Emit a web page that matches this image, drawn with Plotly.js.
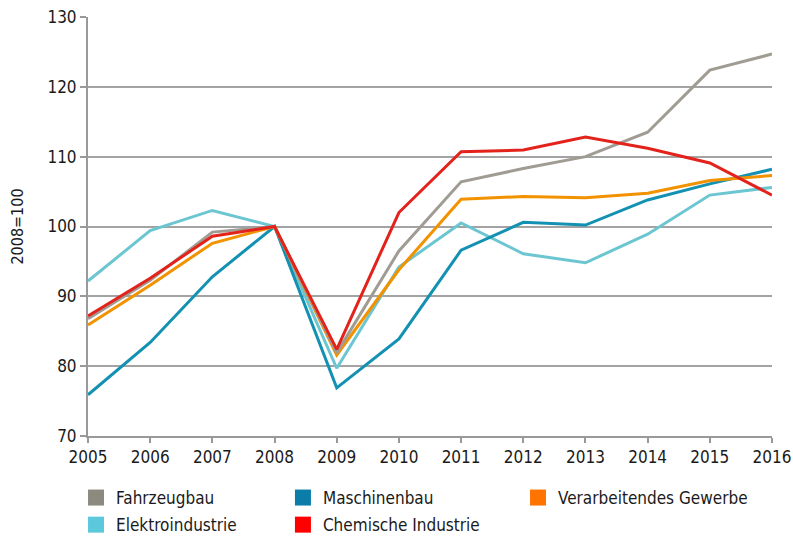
<!DOCTYPE html>
<html><head><meta charset="utf-8">
<script src="https://cdn.plot.ly/plotly-3.0.1.min.js"></script>
<style>body{margin:0;padding:0;background:#fff}#c{width:793px;height:536px}</style>
</head><body><div id="c"></div>
<script>
var years = [2005,2006,2007,2008,2009,2010,2011,2012,2013,2014,2015,2016];
var fahrzeugbau = [86.8,92.3,99.2,100,81.9,96.5,106.4,108.3,110.0,113.5,122.4,124.7];
var maschinenbau = [75.9,83.4,92.8,100,76.9,83.9,96.6,100.6,100.2,103.8,106.1,108.2];
var verarbeitend = [85.9,91.6,97.6,100,81.6,93.8,103.9,104.3,104.1,104.75,106.6,107.3];
var elektro = [92.2,99.4,102.3,100,79.7,94.2,100.5,96.1,94.8,98.9,104.5,105.6];
var chemie = [87.2,92.6,98.6,100,82.4,102.0,110.7,110.95,112.8,111.2,109.1,104.5];
var names = ["Fahrzeugbau","Maschinenbau","Verarbeitendes Gewerbe","Elektroindustrie","Chemische Industrie"];
var lineColors = ["#a09c94","#1391b3","#f39200","#6cc6d1","#e3231b"];
var legendColors = ["#8c8a7e","#0a7ea8","#ff7300","#5bc8dc","#ff0000"];
var series = [fahrzeugbau, maschinenbau, verarbeitend, elektro, chemie];
var legendCol = ["legend","legend2","legend3","legend","legend2"];
var drawOrder = [3,1,2,0,4];
var font = "'DejaVu Sans Condensed','Liberation Sans Narrow',sans-serif";
var traces = [];
drawOrder.forEach(function(i){
  traces.push({x:years,y:series[i],type:'scatter',mode:'lines',name:names[i],
    line:{color:lineColors[i],width:3},showlegend:false,hoverinfo:'skip'});
});
names.forEach(function(n,i){
  traces.push({x:[null],y:[null],type:'scatter',mode:'markers',name:n,
    legend:legendCol[i],legendgroup:'g'+i,
    marker:{symbol:'square',size:17,color:legendColors[i]},showlegend:true});
});
function leg(x){
  return {orientation:'v',x:x,xanchor:'left',y:-0.105,yanchor:'top',
    tracegroupgap:2,itemwidth:30,traceorder:'grouped',
    font:{family:font,size:17,color:'#1a1a1a'},bgcolor:'rgba(0,0,0,0)'};
}
var layout = {
  width:793,height:536,
  margin:{l:88,r:21,t:17,b:100,autoexpand:false},
  paper_bgcolor:'#fff',plot_bgcolor:'#fff',
  font:{family:font,size:17,color:'#1a1a1a'},
  xaxis:{range:[2005,2016],tickvals:years,ticktext:years.map(String),
    showgrid:false,zeroline:false,showline:true,linecolor:'#999',linewidth:2,
    ticks:'outside',ticklen:5,tickwidth:2,tickcolor:'#999',
    tickfont:{family:font,size:17,color:'#1a1a1a'}},
  yaxis:{range:[70,130],dtick:10,tick0:70,showgrid:true,gridcolor:'#a3a3a3',gridwidth:2,
    zeroline:false,showline:true,linecolor:'#999',linewidth:2,
    ticks:'outside',ticklen:6,tickwidth:2,tickcolor:'#999',
    tickfont:{family:font,size:17,color:'#1a1a1a'},
    title:{text:'2008=100',font:{family:font,size:16,color:'#1a1a1a'},standoff:20}},
  legend:leg(-0.0175),
  legend2:leg(0.285),
  legend3:leg(0.6287),
  showlegend:true
};
Plotly.newPlot('c',traces,layout,{displayModeBar:false,staticPlot:true});
</script></body></html>
